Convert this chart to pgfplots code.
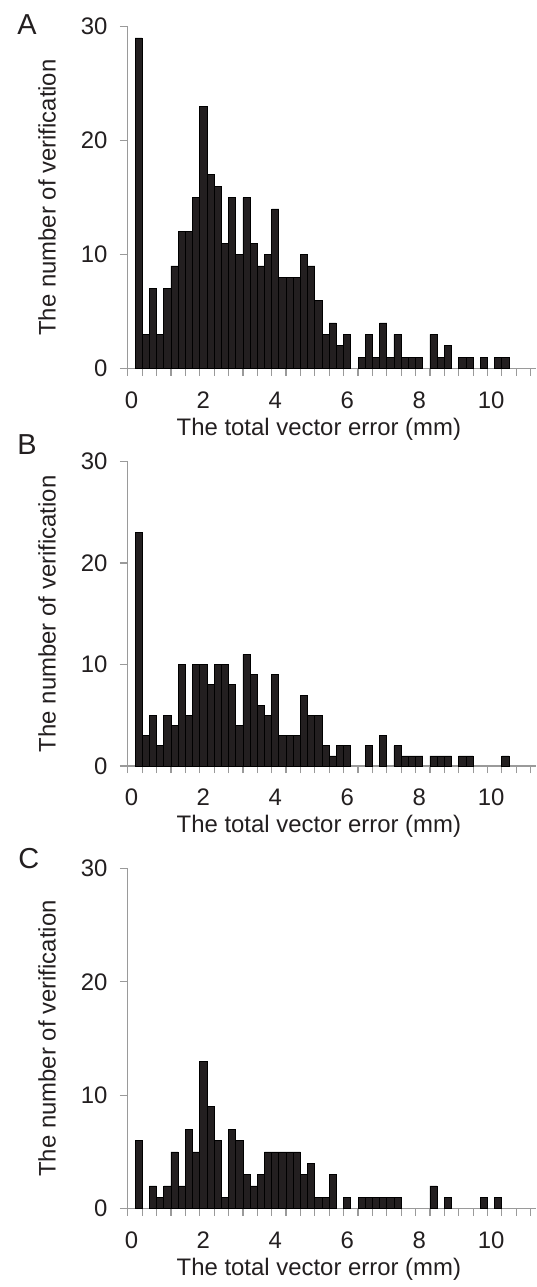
\documentclass[border=0pt]{standalone}
\usepackage{pgfplots}
\pgfplotsset{compat=1.18}
\usepackage{fontspec}
\setmainfont{Liberation Sans}

\definecolor{barfill}{HTML}{231F20}
\definecolor{bargray}{HTML}{B8B8B8}
\definecolor{axisgray}{HTML}{9A9A9A}
\definecolor{txt}{HTML}{231F20}

\pgfplotsset{
  hist/.style={
    scale only axis, width=204.9pt,
    xmin=-0.1, xmax=11.25, ymin=0, ymax=30,
    enlargelimits=false,
    axis x line*=bottom, axis y line*=left,
    axis line style={draw=axisgray, line width=0.6pt, -},
    tick align=outside,
    xtick={0,2,...,10},
    minor xtick={-0.1,0.3,...,11.1},
    ytick={0,10,20,30},
    major tick length=4pt, minor tick length=3.5pt,
    major x tick style={draw=none},
    minor x tick style={draw=axisgray, line width=0.6pt},
    major y tick style={draw=axisgray, line width=0.6pt},
    /pgf/number format/assume math mode=true,
    tick label style={font=\fontsize{12}{14}\selectfont, text=txt},
    label style={font=\fontsize{12}{14}\selectfont, text=txt},
    xticklabel style={anchor=base, yshift=-16pt},
    yticklabel style={anchor=east, inner sep=0pt, xshift=-6pt},
    xlabel={The total vector error (mm)},
    xlabel style={at={(axis description cs:0.468,0)}, anchor=base, yshift=-33.5pt},
    ylabel={The number of verification},
    ylabel style={at={(axis description cs:-0.198,0.5)}, anchor=center},
    ybar, bar width=0.2,
    cycle list={{fill=barfill, draw=bargray, line width=0.5pt}},
  }
}

\begin{document}
\begin{tikzpicture}
% panel A
\begin{axis}[hist, name=A, height=171.65pt, at={(0,0)}, anchor=north west]
\addplot coordinates {
(0.2,29) (0.4,3) (0.6,7) (0.8,3) (1.0,7) (1.2,9) (1.4,12) (1.6,12) (1.8,15) (2.0,23)
(2.2,17) (2.4,16) (2.6,11) (2.8,15) (3.0,10) (3.2,15) (3.4,11) (3.6,9) (3.8,10) (4.0,14)
(4.2,8) (4.4,8) (4.6,8) (4.8,10) (5.0,9) (5.2,6) (5.4,3) (5.6,4) (5.8,2) (6.0,3)
(6.4,1) (6.6,3) (6.8,1) (7.0,4) (7.2,1) (7.4,3) (7.6,1) (7.8,1) (8.0,1)
(8.4,3) (8.6,1) (8.8,2) (9.2,1) (9.4,1) (9.8,1) (10.2,1) (10.4,1)};
\end{axis}

% panel B
\begin{axis}[hist, name=B, height=152.85pt, at={(0,-218.3pt)}, anchor=north west]
\addplot coordinates {
(0.2,23) (0.4,3) (0.6,5) (0.8,2) (1.0,5) (1.2,4) (1.4,10) (1.6,5) (1.8,10) (2.0,10)
(2.2,8) (2.4,10) (2.6,10) (2.8,8) (3.0,4) (3.2,11) (3.4,9) (3.6,6) (3.8,5) (4.0,9)
(4.2,3) (4.4,3) (4.6,3) (4.8,7) (5.0,5) (5.2,5) (5.4,2) (5.6,1) (5.8,2) (6.0,2)
(6.6,2) (7.0,3) (7.4,2) (7.6,1) (7.8,1) (8.0,1)
(8.4,1) (8.6,1) (8.8,1) (9.2,1) (9.4,1) (10.4,1)};
\end{axis}

% panel C
\begin{axis}[hist, name=C, height=170.8pt, at={(0,-422.5pt)}, anchor=north west]
\addplot coordinates {
(0.2,6) (0.6,2) (0.8,1) (1.0,2) (1.2,5) (1.4,2) (1.6,7) (1.8,5) (2.0,13)
(2.2,9) (2.4,6) (2.6,1) (2.8,7) (3.0,6) (3.2,3) (3.4,2) (3.6,3) (3.8,5) (4.0,5)
(4.2,5) (4.4,5) (4.6,5) (4.8,3) (5.0,4) (5.2,1) (5.4,1) (5.6,3) (6.0,1)
(6.4,1) (6.6,1) (6.8,1) (7.0,1) (7.2,1) (7.4,1)
(8.4,2) (8.8,1) (9.8,1) (10.2,1)};
\end{axis}

\node[anchor=base west, inner sep=0pt, text=txt, font=\fontsize{14.5}{16}\selectfont]
  at ([xshift=-55.65pt, yshift=-4.15pt]A.north west) {A};
\node[anchor=base west, inner sep=0pt, text=txt, font=\fontsize{14.5}{16}\selectfont]
  at ([xshift=-55.65pt, yshift=3.65pt]B.north west) {B};
\node[anchor=base west, inner sep=0pt, text=txt, font=\fontsize{14.5}{16}\selectfont]
  at ([xshift=-55.15pt, yshift=0.15pt]C.north west) {C};

\path (A.north west) ++(-64.15pt,13.35pt) rectangle ++(269.5pt,-643.5pt);
\end{tikzpicture}
\end{document}
